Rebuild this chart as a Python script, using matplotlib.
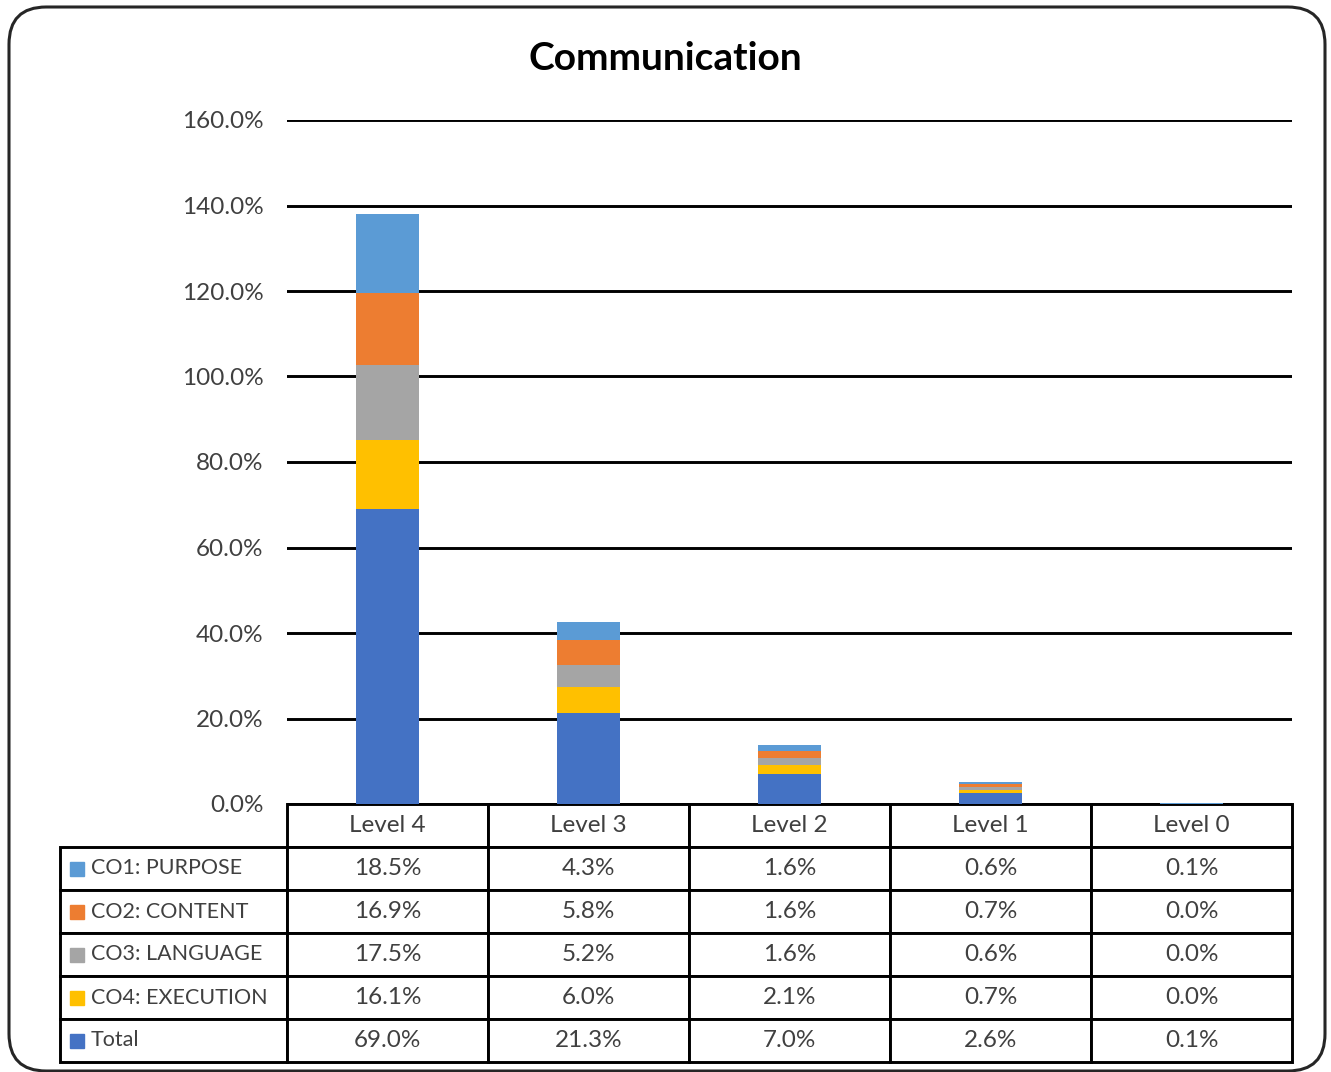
import numpy as np
import matplotlib
matplotlib.use("Agg")
import matplotlib.pyplot as plt
from matplotlib.table import Table
from matplotlib.patches import FancyBboxPatch, Rectangle

# data
levels = ["Level 4", "Level 3", "Level 2", "Level 1", "Level 0"]
series = ["CO1: PURPOSE", "CO2: CONTENT", "CO3: LANGUAGE", "CO4: EXECUTION", "Total"]
co1 = [18.5, 4.3, 1.6, 0.6, 0.1]
co2 = [16.9, 5.8, 1.6, 0.7, 0.0]
co3 = [17.5, 5.2, 1.6, 0.6, 0.0]
co4 = [16.1, 6.0, 2.1, 0.7, 0.0]
total = [69.0, 21.3, 7.0, 2.6, 0.1]
colors = {"CO1: PURPOSE": "#5B9BD5", "CO2: CONTENT": "#ED7D31",
          "CO3: LANGUAGE": "#A5A5A5", "CO4: EXECUTION": "#FFC000",
          "Total": "#4472C4"}
values = {"CO1: PURPOSE": co1, "CO2: CONTENT": co2, "CO3: LANGUAGE": co3,
          "CO4: EXECUTION": co4, "Total": total}

plt.rcParams['font.family'] = ['Lato', 'DejaVu Sans']
txt = "#404040"
fs = 17.5

W, H = 1331, 1072
fig = plt.figure(figsize=(W / 100, H / 100), dpi=100)

# rounded outer frame
frame = FancyBboxPatch((9 / W, 1 / H), (1325 - 9) / W, (1065 - 1) / H,
                       boxstyle="round,pad=0,rounding_size=0.028",
                       transform=fig.transFigure, fill=False,
                       edgecolor="#262626", linewidth=2.2,
                       mutation_aspect=W / H)
fig.patches.append(frame)

left, right = 287 / W, 1292 / W
bottom, top = 1 - 804 / H, 1 - 120 / H
ax = fig.add_axes([left, bottom, right - left, top - bottom])

x = np.arange(len(levels))
base = np.zeros(len(levels))
for name in ["Total", "CO4: EXECUTION", "CO3: LANGUAGE", "CO2: CONTENT", "CO1: PURPOSE"]:
    v = np.array(values[name])
    ax.bar(x, v, bottom=base, width=0.31, color=colors[name], zorder=3)
    base += v

ax.set_xlim(-0.5, len(levels) - 0.5)
ax.set_ylim(0, 160)
ax.set_yticks(np.arange(0, 161, 20))
ax.set_yticklabels([f"{t:.1f}%" for t in np.arange(0, 161, 20)])
ax.set_xticks([])
ax.tick_params(axis="y", length=0, pad=17, labelsize=fs, labelcolor=txt)
for s in ax.spines.values():
    s.set_visible(False)
ax.grid(axis="y", color="black", linewidth=2.1, zorder=0)
ax.set_axisbelow(True)

fig.text(0.5, 1 - 58 / H, "Communication", ha="center", va="center",
         fontsize=28, fontweight="bold", color="black")

# data table under the plot
ax_w, ax_h = 1005, 684
label_w = 227 / ax_w
col_w = 1.0 / len(levels)
row_h = 43 / ax_h
tb = Table(ax, bbox=[0, -row_h * 6, 1, row_h * 6])
tb.auto_set_font_size(False)
for j, lv in enumerate(levels):
    tb.add_cell(0, j, col_w, row_h, text=lv, loc="center")
for i, name in enumerate(series):
    tb.add_cell(i + 1, -1, label_w, row_h, text=name, loc="left")
    for j in range(len(levels)):
        tb.add_cell(i + 1, j, col_w, row_h, text=f"{values[name][j]:.1f}%", loc="center")
for (r, cidx), cell in tb.get_celld().items():
    cell.set_linewidth(2.1)
    cell.set_edgecolor("black")
    cell.get_text().set_fontsize(fs)
    cell.get_text().set_color(txt)
    if cidx == -1:
        cell.PAD = 31 / 227
        cell.get_text().set_fontsize(15.5)
tb.set_clip_on(False)
ax.add_table(tb)

# legend keys in the row labels
for i, name in enumerate(series):
    yc = -row_h * (i + 1.5)
    ax.add_patch(Rectangle((-label_w + 10 / ax_w, yc - 7 / ax_h), 14 / ax_w, 14 / ax_h,
                           transform=ax.transAxes, color=colors[name], clip_on=False))

fig.savefig("out.png", dpi=100)
